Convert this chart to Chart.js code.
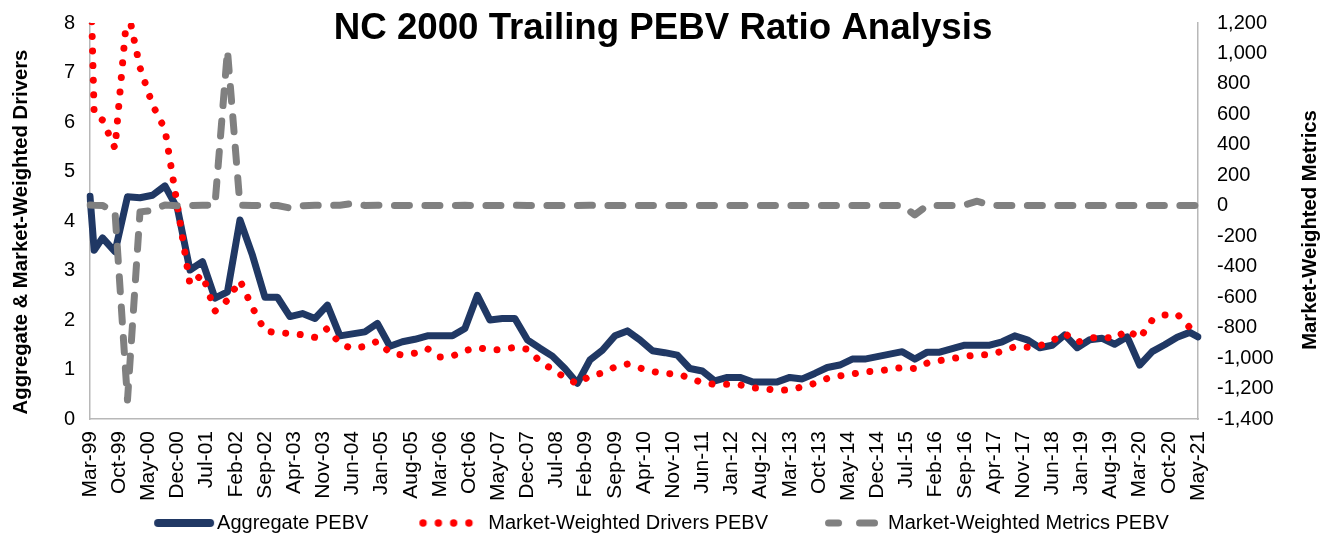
<!DOCTYPE html>
<html>
<head>
<meta charset="utf-8">
<script src="https://cdn.jsdelivr.net/npm/chart.js@4.4.0/dist/chart.umd.min.js"></script>
<style>
  html, body { margin: 0; padding: 0; background: #ffffff; overflow: hidden; }
  #wrap { width: 1325px; height: 539px; position: relative; }
</style>
</head>
<body>
<div id="wrap"><canvas id="c" width="1325" height="539"></canvas></div>
<script>
// ---------- text ----------
const chartTitle = 'NC 2000 Trailing PEBV Ratio Analysis';
const leftAxisTitle = 'Aggregate & Market-Weighted Drivers';
const rightAxisTitle = 'Market-Weighted Metrics';
const seriesNames = ['Aggregate PEBV', 'Market-Weighted Drivers PEBV', 'Market-Weighted Metrics PEBV'];

// ---------- categories (monthly, Mar-99 .. May-21), a tick label every 7 months ----------
const MONTHS = ['Jan','Feb','Mar','Apr','May','Jun','Jul','Aug','Sep','Oct','Nov','Dec'];
const categories = [];
for (let y = 1999; y <= 2021; y++) {
  for (let m = 0; m < 12; m++) {
    if ((y === 1999 && m < 2) || (y === 2021 && m > 4)) continue;
    categories.push(MONTHS[m] + '-' + String(y % 100).padStart(2, '0'));
  }
}
const tickEvery = 7;

// observation dates: Mar-99, Apr-99, then quarter ends Jun-99 .. Mar-21, then May-21
const obsDates = ['Mar-99', 'Apr-99'];
for (let i = 3; i <= 264; i += 3) obsDates.push(categories[i]);
obsDates.push('May-21');

// ---------- series values ----------
const aggregatePEBV = [
  4.50, 3.41, 3.66, 3.38, 4.49, 4.47, 4.52, 4.71, 4.25, 3.01,
  3.18, 2.44, 2.57, 4.02, 3.31, 2.46, 2.46, 2.07, 2.13, 2.03,
  2.30, 1.68, 1.72, 1.76, 1.93, 1.47, 1.56, 1.61, 1.68, 1.68,
  1.68, 1.83, 2.50, 2.00, 2.03, 2.03, 1.60, 1.43, 1.27, 1.02,
  0.72, 1.19, 1.39, 1.68, 1.78, 1.60, 1.38, 1.34, 1.29, 1.02,
  0.97, 0.77, 0.84, 0.84, 0.75, 0.75, 0.75, 0.84, 0.81, 0.92,
  1.04, 1.09, 1.21, 1.21, 1.26, 1.31, 1.36, 1.21, 1.35, 1.35,
  1.42, 1.49, 1.49, 1.49, 1.56, 1.68, 1.60, 1.44, 1.49, 1.70,
  1.44, 1.60, 1.63, 1.51, 1.66, 1.09, 1.36, 1.50, 1.65, 1.75,
  1.66
];
const driversPEBV = [
  9.50, 6.16, 6.04, 5.47, 8.30, 7.10, 6.35, 5.85, 4.30, 2.72,
  2.92, 2.18, 2.40, 2.80, 2.25, 1.78, 1.74, 1.73, 1.70, 1.65,
  1.83, 1.52, 1.42, 1.47, 1.57, 1.34, 1.29, 1.33, 1.42, 1.25,
  1.27, 1.38, 1.44, 1.40, 1.40, 1.45, 1.41, 1.17, 1.00, 0.84,
  0.71, 0.87, 0.93, 1.05, 1.11, 1.03, 0.96, 0.92, 0.91, 0.83,
  0.73, 0.70, 0.70, 0.69, 0.63, 0.61, 0.58, 0.59, 0.65, 0.72,
  0.82, 0.87, 0.91, 0.95, 0.97, 1.00, 1.04, 1.02, 1.13, 1.18,
  1.22, 1.26, 1.30, 1.30, 1.37, 1.46, 1.45, 1.48, 1.58, 1.73,
  1.55, 1.63, 1.66, 1.62, 1.80, 1.63, 2.00, 2.10, 2.12, 1.85,
  1.80
];
const metricsPEBV = [
  5, 3, 2, -40, -1275, -40, -30, 5, 0, 2,
  3, 5, 1020, 3, 2, 3, 2, -15, 0, 3,
  2, 4, 15, 2, 3, 2, 2, 3, 2, 2,
  2, 3, 2, 2, 2, 3, 2, 2, 2, 2,
  2, 3, 2, 2, 2, 2, 2, 2, 2, 2,
  2, 2, 2, 2, 2, 2, 2, 2, 2, 2,
  2, 2, 2, 2, 2, 2, 2, -60, 2, 2,
  2, 5, 30, 3, 2, 2, 2, 2, 2, 2,
  2, 2, 2, 2, 2, 2, 2, 2, 2, 2,
  2
];

// ---------- axis ranges ----------
const leftMin = 0, leftMax = 8, leftStep = 1;
const rightMin = -1400, rightMax = 1200, rightStep = 200;

// ---------- styles ----------
const FONT = '"Liberation Sans", Arial, Helvetica, sans-serif';
const NAVY = '#203864';
const RED = '#ff0000';
const GRAY = '#808080';
const AXIS = '#b8b8b8';

function toPoints(values) { return obsDates.map((d, i) => ({ x: d, y: values[i] })); }

function makeIcon(w, h, draw) {
  const cv = document.createElement('canvas');
  cv.width = w; cv.height = h;
  const g = cv.getContext('2d');
  draw(g);
  return cv;
}
const legendIcons = [
  makeIcon(120, 20, g => {
    g.strokeStyle = NAVY; g.lineWidth = 8; g.lineCap = 'round';
    g.beginPath(); g.moveTo(61, 10); g.lineTo(113, 10); g.stroke();
  }),
  makeIcon(100, 20, g => {
    g.fillStyle = RED;
    [44.7, 60, 75.3, 90.6].forEach(x => { g.beginPath(); g.arc(x, 10, 3.7, 0, Math.PI * 2); g.fill(); });
  }),
  makeIcon(100, 20, g => {
    g.strokeStyle = GRAY; g.lineWidth = 7; g.lineCap = 'round';
    g.beginPath(); g.moveTo(50.5, 10); g.lineTo(60.5, 10); g.moveTo(81.5, 10); g.lineTo(96.5, 10); g.stroke();
  })
];

const textPlugin = {
  id: 'textPlugin',
  afterDraw(chart) {
    const c = chart.ctx;
    c.save();
    c.fillStyle = '#000';
    c.textAlign = 'center';
    c.textBaseline = 'alphabetic';
    c.font = 'bold 36.7px ' + FONT;
    c.fillText(chartTitle, 663, 39);
    c.font = 'bold 20.3px ' + FONT;
    c.textBaseline = 'middle';
    c.save(); c.translate(21, 232); c.rotate(-Math.PI / 2); c.fillText(leftAxisTitle, 0, 0); c.restore();
    c.save(); c.translate(1310, 230); c.rotate(-Math.PI / 2); c.fillText(rightAxisTitle, 0, 0); c.restore();
    c.restore();
  }
};

const tickFont = { family: FONT, size: 20 };
const noVPad = s => { s.paddingTop = 0; s.paddingBottom = 0; };

new Chart(document.getElementById('c'), {
  type: 'line',
  data: {
    labels: categories,
    datasets: [
      { label: seriesNames[0], data: toPoints(aggregatePEBV), yAxisID: 'y',
        borderColor: NAVY, backgroundColor: NAVY, borderWidth: 7, borderJoinStyle: 'round', borderCapStyle: 'round',
        pointRadius: 0, tension: 0, order: 3 },
      { label: seriesNames[1], data: toPoints(driversPEBV), yAxisID: 'y',
        borderColor: RED, backgroundColor: RED, borderWidth: 7, borderDash: [0.01, 14.6], borderCapStyle: 'round', borderJoinStyle: 'round',
        pointRadius: 0, tension: 0, order: 2 },
      { label: seriesNames[2], data: toPoints(metricsPEBV), yAxisID: 'y1',
        borderColor: GRAY, backgroundColor: GRAY, borderWidth: 7, borderDash: [15, 15.5], borderCapStyle: 'round', borderJoinStyle: 'round',
        pointRadius: 0, tension: 0, order: 1 }
    ]
  },
  options: {
    responsive: false,
    animation: false,
    devicePixelRatio: 1,
    layout: { padding: { top: 23, left: 0, right: 49, bottom: -4 } },
    scales: {
      x: {
        type: 'category', offset: false,
        grid: { display: false, drawTicks: false },
        border: { display: true, color: AXIS, width: 1.5 },
        ticks: {
          autoSkip: false, maxRotation: 90, minRotation: 90, padding: 12, color: '#000', font: { family: FONT, size: 21 },
          callback: function (v, i) { return i % tickEvery === 0 ? this.getLabelForValue(v) : null; }
        },
        afterFit: s => { s.height = 84; }
      },
      y: {
        position: 'left', min: leftMin, max: leftMax,
        grid: { display: false, drawTicks: false },
        border: { display: true, color: AXIS, width: 1.5 },
        ticks: { stepSize: leftStep, padding: 15, color: '#000', font: tickFont },
        afterFit: s => { s.width = 90; noVPad(s); }
      },
      y1: {
        position: 'right', min: rightMin, max: rightMax,
        grid: { display: false, drawTicks: false },
        border: { display: true, color: AXIS, width: 1.5 },
        ticks: { stepSize: rightStep, padding: 19, color: '#000', font: tickFont,
          callback: v => Number(v).toLocaleString('en-US') },
        afterFit: s => { s.width = 78; noVPad(s); }
      }
    },
    plugins: {
      title: { display: false },
      tooltip: { enabled: false },
      legend: {
        position: 'bottom', align: 'center',
        labels: {
          usePointStyle: true, pointStyleWidth: 100, boxHeight: 20, padding: 10,
          color: '#000', font: { family: FONT, size: 20 },
          generateLabels: chart => chart.data.datasets.map((ds, i) => ({
            text: ds.label, datasetIndex: i, pointStyle: legendIcons[i],
            fillStyle: 'rgba(0,0,0,0)', strokeStyle: 'rgba(0,0,0,0)', lineWidth: 0, hidden: false, fontColor: '#000'
          }))
        }
      }
    }
  },
  plugins: [textPlugin]
});
</script>
</body>
</html>
